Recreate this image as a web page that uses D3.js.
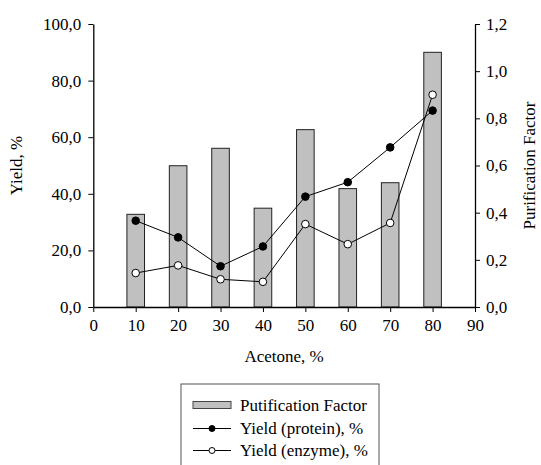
<!DOCTYPE html>
<html><head><meta charset="utf-8">
<script src="https://cdn.jsdelivr.net/npm/d3@7"></script>
</head><body style="margin:0;background:#fff">
<svg id="c" width="541" height="465" style="display:block"></svg>
<script>
const acetone = [10, 20, 30, 40, 50, 60, 70, 80];
const purificationFactor = [0.393, 0.599, 0.673, 0.419, 0.752, 0.502, 0.527, 1.080];
const yieldProtein = [30.5, 24.6, 14.4, 21.4, 39.0, 44.1, 56.4, 69.4];
const yieldEnzyme = [12.0, 14.7, 9.8, 8.9, 29.3, 22.2, 29.7, 75.0];
const xTicks = [0, 10, 20, 30, 40, 50, 60, 70, 80, 90];
const yLeftTicks = [0, 20, 40, 60, 80, 100];
const yRightTicks = [0, 0.2, 0.4, 0.6, 0.8, 1.0, 1.2];
const legendLabels = ["Putification Factor", "Yield (protein), %", "Yield (enzyme), %"];

const FONT = '"Liberation Serif"';
const FS = 17;
const svg = d3.select("#c");
const L = 93.3, R = 475, T = 24, B = 307;
const x = d3.scaleLinear().domain([0, 90]).range([L, R]);
const yL = d3.scaleLinear().domain([0, 100]).range([B, T]);
const yR = d3.scaleLinear().domain([0, 1.2]).range([B, T]);
const fmt1 = v => d3.format(".1f")(v).replace(".", ",");
const barW = x(4.15) - x(0);
const txt = (sel) => sel.style("font-family", FONT).style("font-size", FS + "px").attr("fill", "#000");

// bars
svg.append("g").selectAll("rect").data(acetone).join("rect")
  .attr("x", (d) => x(d) - barW / 2)
  .attr("y", (d, i) => yR(purificationFactor[i]))
  .attr("width", barW)
  .attr("height", (d, i) => B - yR(purificationFactor[i]))
  .attr("fill", "#c0c0c0").attr("stroke", "#222").attr("stroke-width", 1);

// axes
const axisStyle = g => {
  g.attr("font-family", null).attr("font-size", null);
  g.selectAll("path").attr("stroke", "#000").attr("stroke-width", 1.3);
  g.selectAll("line").attr("stroke", "#000");
  g.selectAll("text").call(txt);
};
svg.append("g").attr("transform", `translate(0,${B})`)
  .call(d3.axisBottom(x).tickValues(xTicks).tickSize(5).tickSizeOuter(0).tickPadding(7))
  .call(axisStyle);
svg.append("g").attr("transform", `translate(${L},0)`)
  .call(d3.axisLeft(yL).tickValues(yLeftTicks).tickFormat(fmt1).tickSize(5).tickSizeOuter(0).tickPadding(7))
  .call(axisStyle);
svg.append("g").attr("transform", `translate(${R},0)`)
  .call(d3.axisRight(yR).tickValues(yRightTicks).tickFormat(fmt1).tickSize(5).tickSizeOuter(0).tickPadding(6))
  .call(axisStyle);

// lines
const line = (arr, yS) => d3.line().x((d, i) => x(acetone[i])).y(d => yS(d))(arr);
svg.append("path").attr("d", line(yieldProtein, yL)).attr("fill", "none").attr("stroke", "#000").attr("stroke-width", 1);
svg.append("path").attr("d", line(yieldEnzyme, yL)).attr("fill", "none").attr("stroke", "#000").attr("stroke-width", 1);
svg.append("g").selectAll("circle").data(yieldProtein).join("circle")
  .attr("cx", (d, i) => x(acetone[i])).attr("cy", d => yL(d)).attr("r", 3.8)
  .attr("fill", "#000").attr("stroke", "#000");
svg.append("g").selectAll("circle").data(yieldEnzyme).join("circle")
  .attr("cx", (d, i) => x(acetone[i])).attr("cy", d => yL(d)).attr("r", 3.8)
  .attr("fill", "#fff").attr("stroke", "#000");

// axis titles
svg.append("text").attr("x", (L + R) / 2).attr("y", 362).attr("text-anchor", "middle").call(txt).text("Acetone, %");
svg.append("text").attr("transform", `translate(22,${(T + B) / 2}) rotate(-90)`).attr("text-anchor", "middle").call(txt).text("Yield, %");
svg.append("text").attr("transform", `translate(535,${(T + B) / 2}) rotate(-90)`).attr("text-anchor", "middle").call(txt).text("Purification Factor");

// legend
svg.append("rect").attr("x", 181).attr("y", 384).attr("width", 198).attr("height", 100)
  .attr("fill", "#fff").attr("stroke", "#555").attr("stroke-width", 1);
const lg = svg.append("g");
const rowY = [405, 428.5, 450.5];
lg.append("rect").attr("x", 193).attr("y", rowY[0] - 3.5).attr("width", 38).attr("height", 7)
  .attr("fill", "#c0c0c0").attr("stroke", "#444");
[1, 2].forEach(k => {
  lg.append("line").attr("x1", 193).attr("x2", 231).attr("y1", rowY[k]).attr("y2", rowY[k]).attr("stroke", "#000");
  lg.append("circle").attr("cx", 212).attr("cy", rowY[k]).attr("r", 3)
    .attr("fill", k === 1 ? "#000" : "#fff").attr("stroke", "#000");
});
legendLabels.forEach((t, k) => {
  lg.append("text").attr("x", 240).attr("y", rowY[k]).attr("dy", "0.35em").call(txt).text(t);
});
</script>
</body></html>
